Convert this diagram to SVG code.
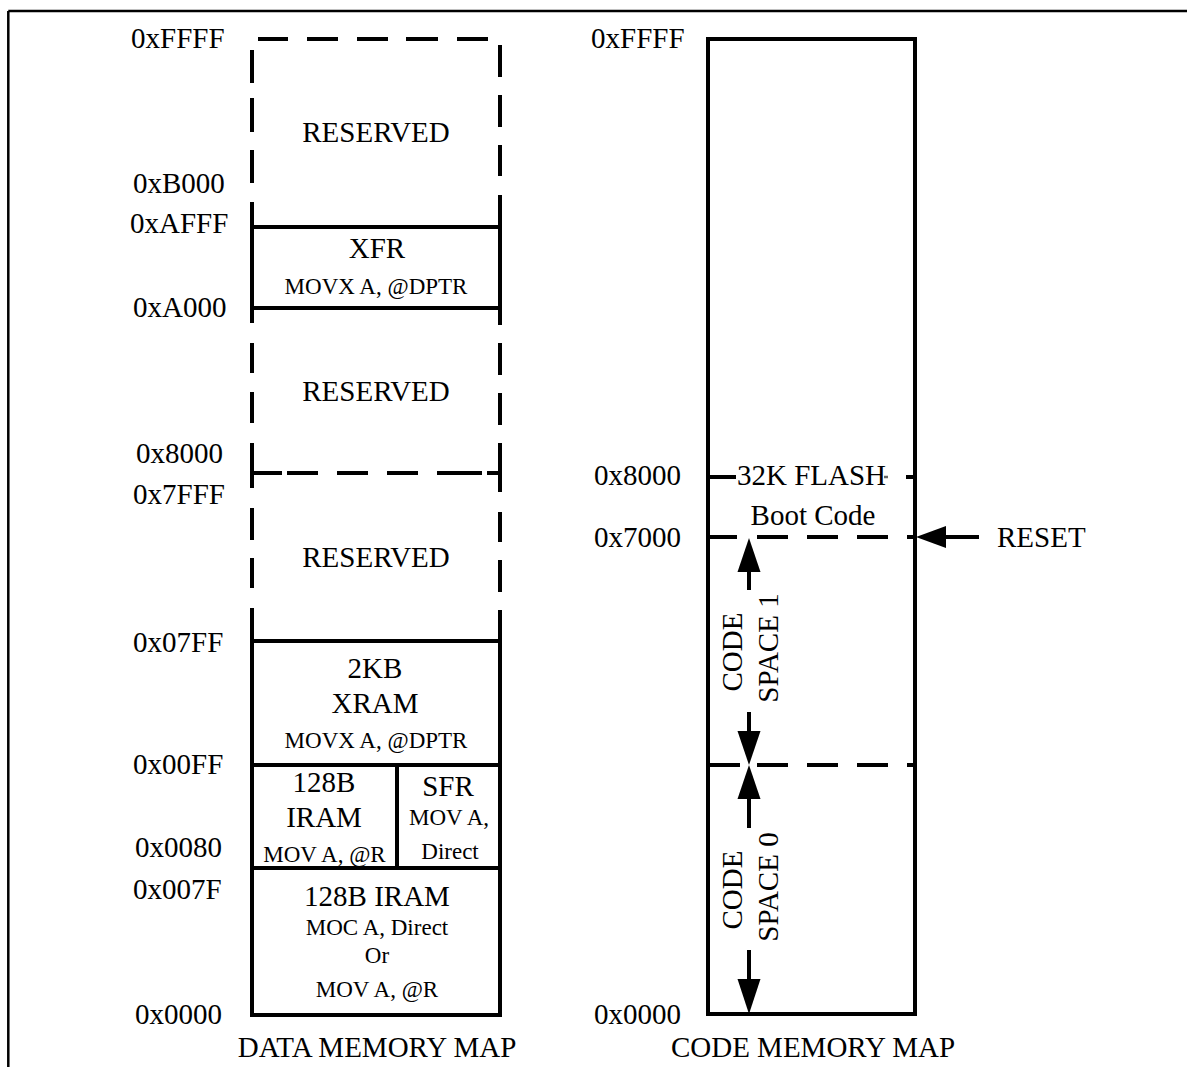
<svg xmlns="http://www.w3.org/2000/svg" width="1187" height="1067" viewBox="0 0 1187 1067">
<style>
text{font-family:"Liberation Serif","Times New Roman",serif;fill:#000}
.t{font-size:29px}
.s{font-size:23px}
.m{text-anchor:middle}
.ln{stroke:#000;stroke-width:4;fill:none}
.fr{stroke:#000;stroke-width:2.5;fill:none}
.ah{fill:#000;stroke:none}
</style>
<rect width="1187" height="1067" fill="#fff"/>
<g id="frame">
<path class="fr" d="M8.3 11H1187M8.3 11V1067"/>
</g>
<g id="data-memory-map">
<g id="data-reserved-top">
<path class="ln" d="M258 39H288M307 39H338M357 39H388M406 39H438M457 39H488M252 50V83M252 98V132M252 150V183M252 202V227M500 45V77M500 95V127M500 145V176M500 195V227"/>
<text class="t m" x="376" y="142">RESERVED</text>
</g>
<g id="data-xfr">
<path class="ln" d="M252 227H500M252 308H500M252 227V308M500 227V308"/>
<text class="t m" x="377" y="258">XFR</text>
<text class="s m" x="376" y="294">MOVX A, @DPTR</text>
</g>
<g id="data-reserved-mid">
<path class="ln" d="M252 308V323M252 343V373M252 392V423M252 443V475M500 308V325M500 343V375M500 393V425M500 443V475"/>
<text class="t m" x="376" y="401">RESERVED</text>
</g>
<g id="data-boundary-8000">
<path class="ln" d="M252 473H282M287 473H318M337 473H368M387 473H418M437 473H482M487 473H500"/>
</g>
<g id="data-reserved-low">
<path class="ln" d="M252 471V488M252 508V540M252 558V588M252 608V641M500 471V492M500 512V542M500 560V592M500 610V641"/>
<text class="t m" x="376" y="567">RESERVED</text>
</g>
<g id="data-xram">
<path class="ln" d="M252 641H500V765H252Z"/>
<text class="t m" x="375" y="678">2KB</text>
<text class="t m" x="375" y="713">XRAM</text>
<text class="s m" x="376" y="748">MOVX A, @DPTR</text>
</g>
<g id="data-iram-upper">
<path class="ln" d="M252 765V868H397V765"/>
<text class="t m" x="324" y="792">128B</text>
<text class="t m" x="324" y="827">IRAM</text>
<text class="s m" x="324.5" y="862">MOV A, @R</text>
</g>
<g id="data-sfr">
<path class="ln" d="M397 765V868H500V765"/>
<text class="t m" x="448" y="796">SFR</text>
<text class="s m" x="449" y="825">MOV A,</text>
<text class="s m" x="450" y="859">Direct</text>
</g>
<g id="data-iram-lower">
<path class="ln" d="M252 868H500V1015H252Z"/>
<text class="t m" x="377" y="906">128B IRAM</text>
<text class="s m" x="377" y="935">MOC A, Direct</text>
<text class="s m" x="377" y="963">Or</text>
<text class="s m" x="377" y="997">MOV A, @R</text>
</g>
<g id="data-addresses">
<text class="t" x="131" y="48">0xFFFF</text>
<text class="t" x="133" y="193">0xB000</text>
<text class="t" x="130" y="233">0xAFFF</text>
<text class="t" x="133" y="317">0xA000</text>
<text class="t" x="136" y="463">0x8000</text>
<text class="t" x="133" y="504">0x7FFF</text>
<text class="t" x="133" y="652">0x07FF</text>
<text class="t" x="133" y="774">0x00FF</text>
<text class="t" x="135" y="857">0x0080</text>
<text class="t" x="133" y="899">0x007F</text>
<text class="t" x="135" y="1024">0x0000</text>
</g>
<text id="data-title" class="t m" x="377" y="1057">DATA MEMORY MAP</text>
</g>
<g id="code-memory-map">
<g id="code-flash">
<rect class="ln" x="708" y="39" width="207" height="975"/>
</g>
<g id="code-boundary-8000">
<path class="ln" d="M708 477H736M906 477H915"/>
<path d="M884 477H888" stroke="#000" stroke-width="2.5" opacity="0.6"/>
<text class="t" x="737" y="485">32K FLASH</text>
</g>
<g id="code-boot">
<text class="t m" x="813" y="525">Boot Code</text>
<path class="ln" d="M708 537H737M757 537H788M807 537H838M857 537H888M907 537H915"/>
</g>
<g id="code-space-1">
<text class="t m" transform="translate(742 652) rotate(-90)">CODE</text>
<text class="t m" transform="translate(778 648) rotate(-90)">SPACE 1</text>
</g>
<g id="code-boundary-mid">
<path class="ln" d="M708 765H740M757 765H788M807 765H838M857 765H888M907 765H915"/>
</g>
<g id="code-space-0">
<text class="t m" transform="translate(742 890) rotate(-90)">CODE</text>
<text class="t m" transform="translate(778 887) rotate(-90)">SPACE 0</text>
</g>
<g id="code-addresses">
<text class="t" x="591" y="48">0xFFFF</text>
<text class="t" x="594" y="485">0x8000</text>
<text class="t" x="594" y="547">0x7000</text>
<text class="t" x="594" y="1024">0x0000</text>
</g>
<text id="reset-label" class="t" x="997" y="547">RESET</text>
<text id="code-title" class="t m" x="813" y="1057">CODE MEMORY MAP</text>
</g>
<g id="connectors">
<path class="ln" d="M749 571V590M749 712V732M749 798V828M749 950V980M945 537H979"/>
<polygon class="ah" points="749,538 737.5,572 760.5,572"/>
<polygon class="ah" points="737.5,731 760.5,731 749,765"/>
<polygon class="ah" points="749,765 737.5,799 760.5,799"/>
<polygon class="ah" points="737.5,979 760.5,979 749,1014"/>
<polygon class="ah" points="916,537 946,526 946,548"/>
</g>
</svg>
